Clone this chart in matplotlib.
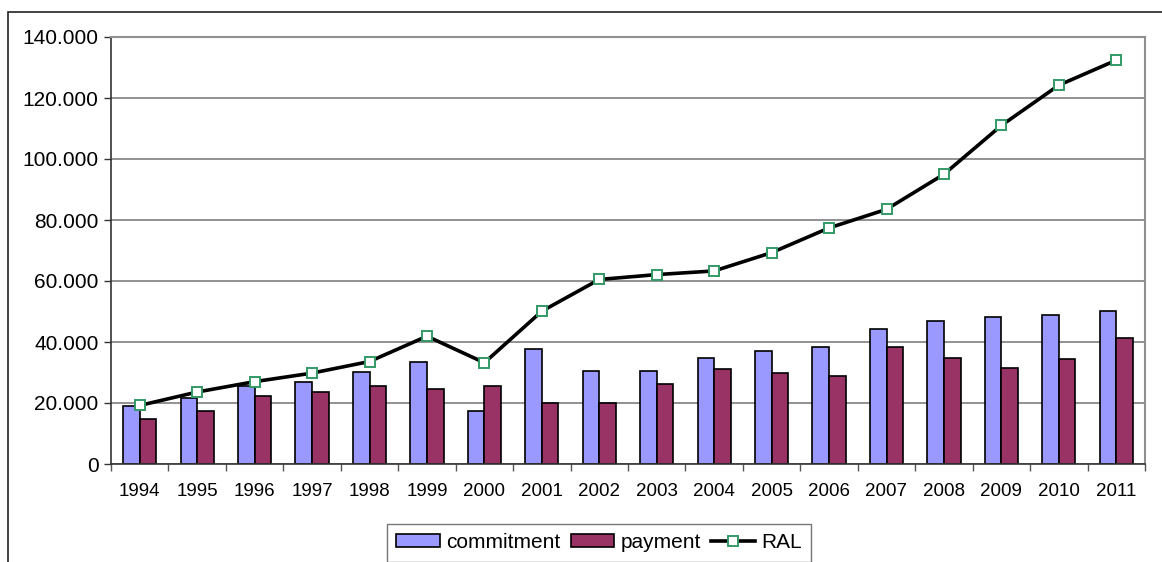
import numpy as np
import matplotlib
matplotlib.use('Agg')
import matplotlib.pyplot as plt
from matplotlib.patches import Rectangle
from matplotlib.ticker import FuncFormatter, MultipleLocator

plt.rcParams['font.family'] = ['Liberation Sans', 'DejaVu Sans']

years = ['1994', '1995', '1996', '1997', '1998', '1999', '2000', '2001', '2002',
         '2003', '2004', '2005', '2006', '2007', '2008', '2009', '2010', '2011']
commitment = [19000, 21600, 25600, 26800, 30200, 33400, 17400, 37600, 30600,
              30600, 34900, 37100, 38200, 44100, 47000, 48100, 48700, 50200]
payment = [14700, 17400, 22300, 23500, 25700, 24600, 25500, 20000, 20000,
           26100, 31000, 30000, 28800, 38200, 34900, 31600, 34400, 41400]
ral = [19200, 23600, 27000, 29800, 33600, 41900, 33200, 50100, 60500,
       62100, 63300, 69300, 77400, 83500, 95000, 111000, 124200, 132400]

fig = plt.figure(figsize=(11.62, 5.62), dpi=100)
ax = fig.add_axes([111 / 1162, 98 / 562, 1034 / 1162, 427 / 562])

# outer chart frame (only top and left edges visible in the crop)
fig.patches.append(Rectangle((7.5 / 1162, -0.1), 1.2, 1 - 12 / 562 + 0.1,
                             transform=fig.transFigure, fill=False,
                             edgecolor='#222222', linewidth=1.2))

x = np.arange(len(years))
w = 0.29
b1 = ax.bar(x - w / 2, commitment, w, color='#9999FF', edgecolor='black',
            linewidth=1.2, label='commitment', zorder=2)
b2 = ax.bar(x + w / 2, payment, w, color='#993366', edgecolor='black',
            linewidth=1.2, label='payment', zorder=2)
l1, = ax.plot(x, ral, color='black', linewidth=2.6, marker='s', markersize=7,
              markerfacecolor='white', markeredgecolor='#339966',
              markeredgewidth=1.4, label='RAL', zorder=3)

ax.set_xlim(-0.5, len(years) - 0.5)
ax.set_ylim(0, 140000)
ax.yaxis.set_major_locator(MultipleLocator(20000))
ax.yaxis.set_major_formatter(
    FuncFormatter(lambda v, p: f'{v:,.0f}'.replace(',', '.')))
ax.grid(axis='y', color='#7f7f7f', linewidth=1.2, zorder=0)
ax.set_axisbelow(True)

ax.set_xticks(x)
ax.set_xticklabels(years, fontsize=13.5)
ax.set_xticks(np.arange(-0.5, len(years)), minor=True)
ax.tick_params(axis='x', which='major', length=0, pad=14)
ax.tick_params(axis='x', which='minor', length=5, width=1, color='#555555',
               direction='out')
ax.tick_params(axis='y', labelsize=15, length=5, width=1, direction='out',
               color='#333333', pad=4)

for s in ['top', 'right']:
    ax.spines[s].set_color('#909090')
    ax.spines[s].set_linewidth(1.5)
for s in ['left', 'bottom']:
    ax.spines[s].set_color('#333333')
    ax.spines[s].set_linewidth(1.2)

leg = fig.legend([b1, b2, l1], ['commitment', 'payment', 'RAL'],
                 loc='lower center', bbox_to_anchor=(599 / 1162, 0.5 / 562),
                 ncol=3, fontsize=15, frameon=True, fancybox=False,
                 borderpad=0.45, handlelength=2.1, handleheight=0.6,
                 handletextpad=0.3, columnspacing=0.5, borderaxespad=0)
leg.get_frame().set_edgecolor('#555555')
leg.get_frame().set_linewidth(1.0)

fig.savefig('out.png', dpi=100)
